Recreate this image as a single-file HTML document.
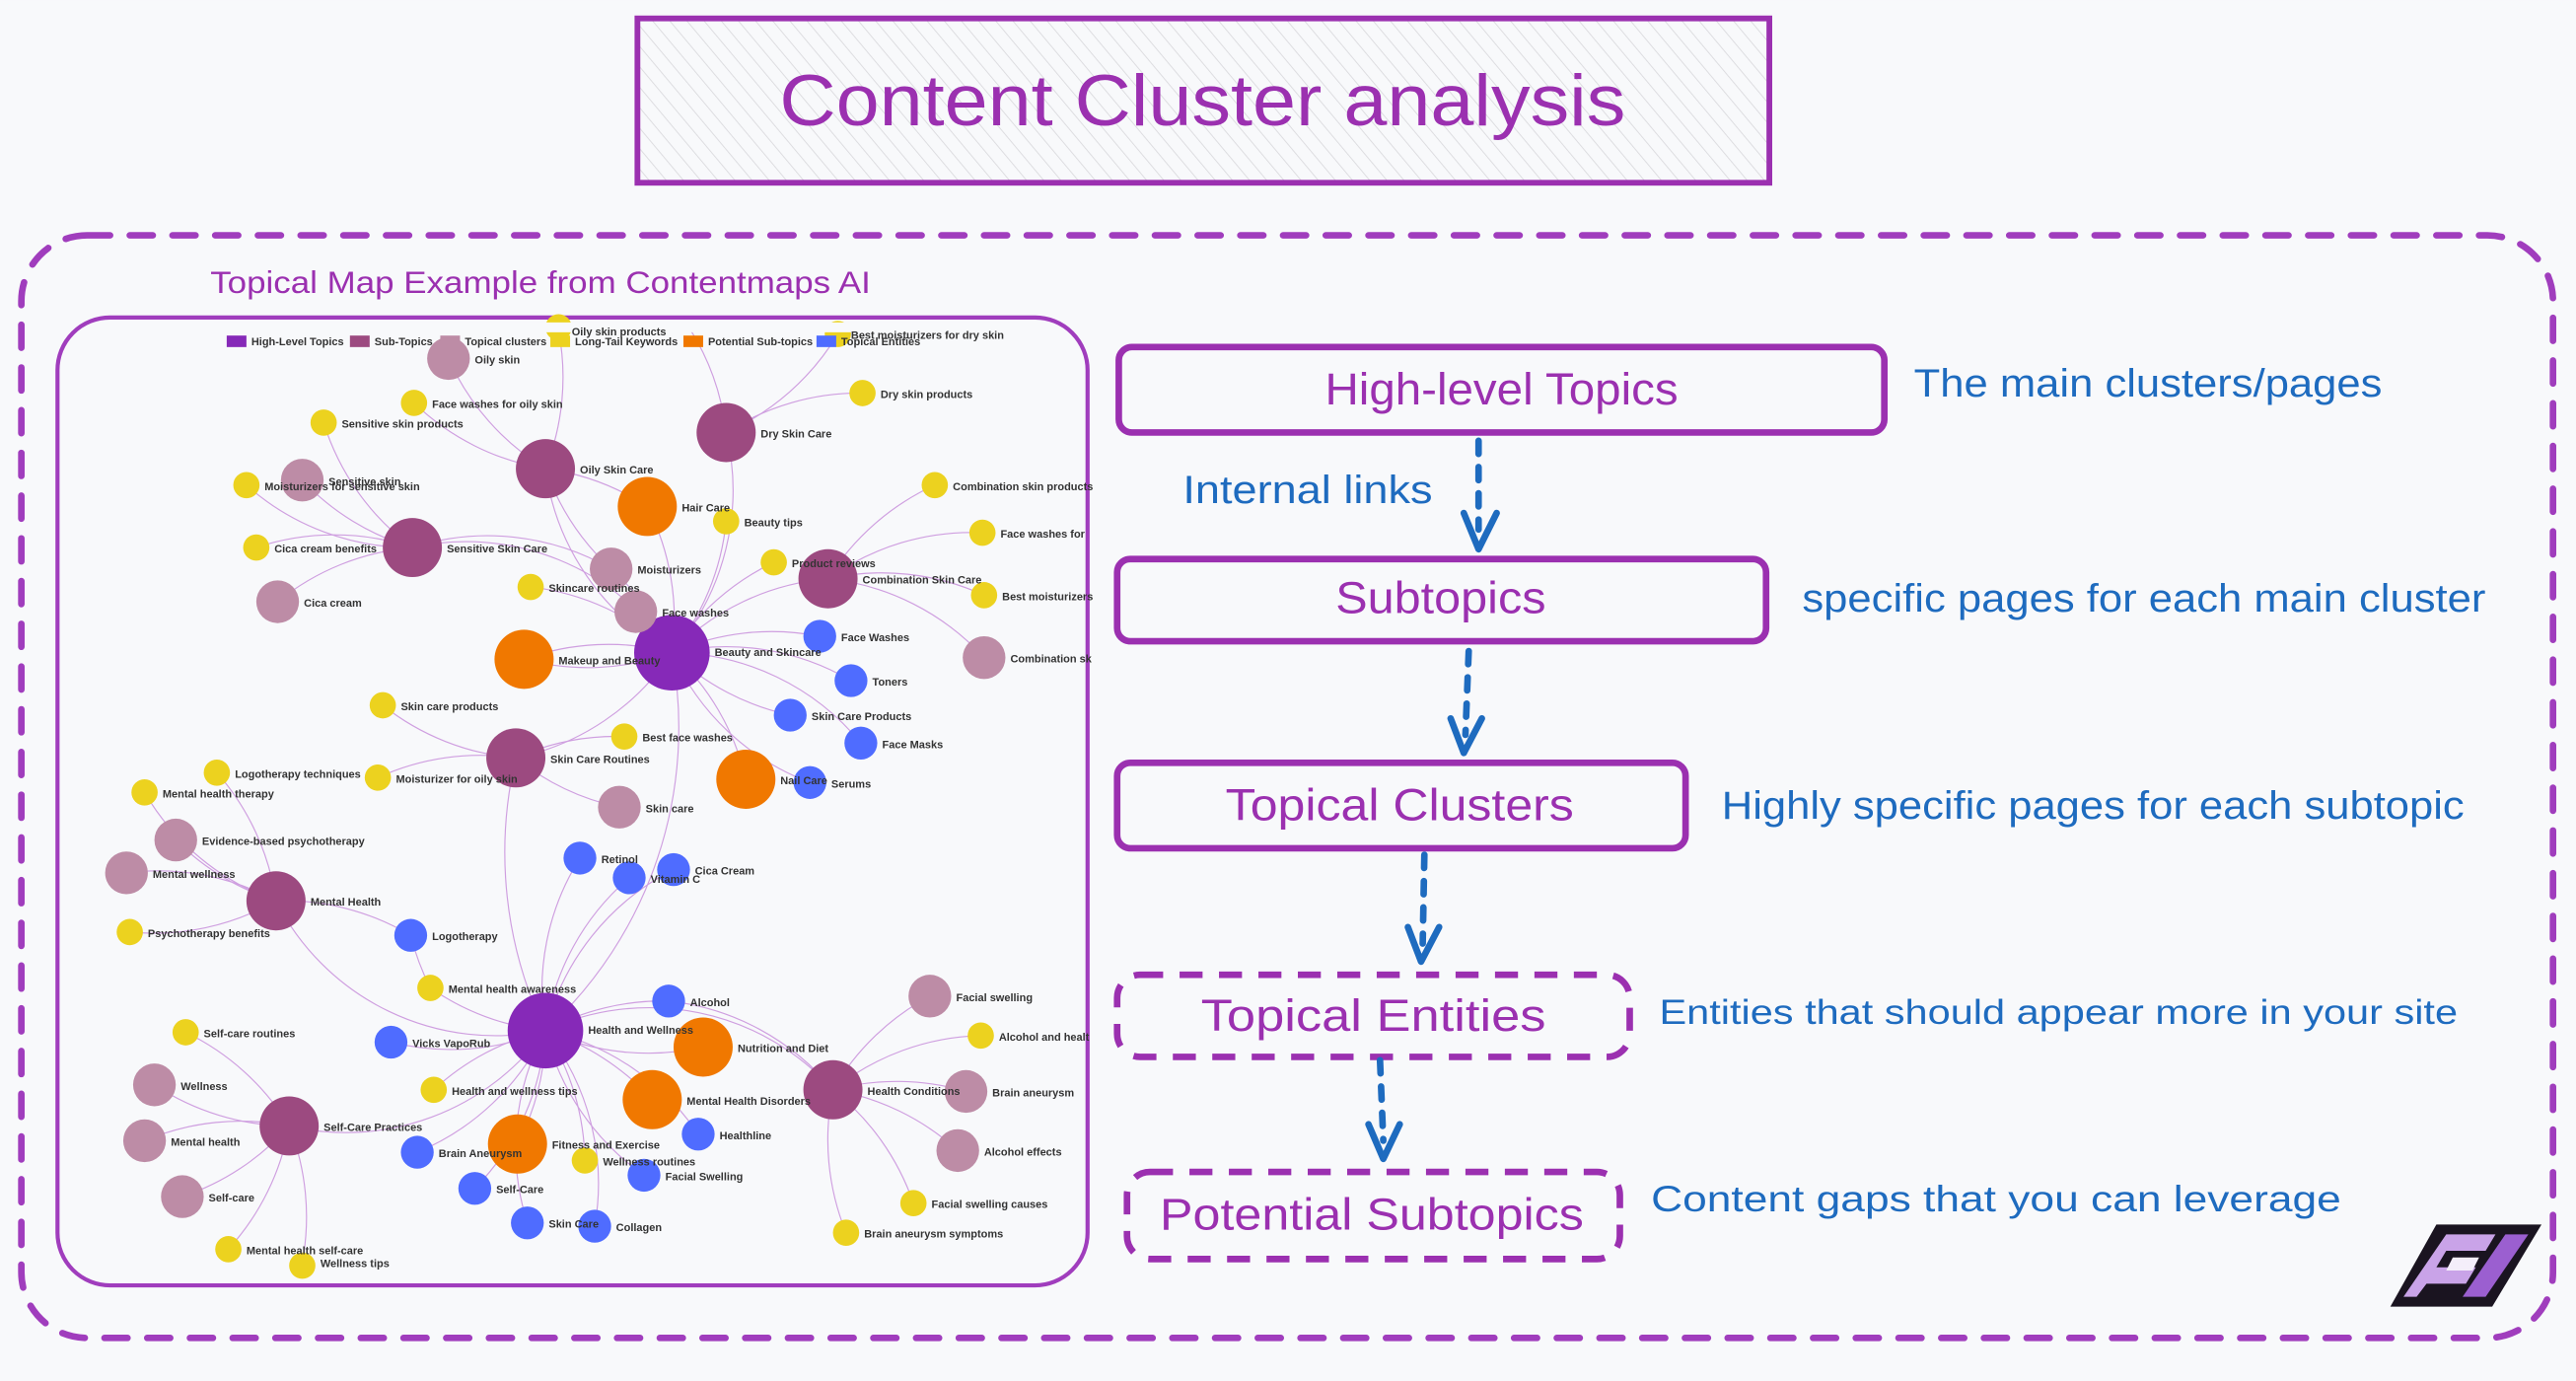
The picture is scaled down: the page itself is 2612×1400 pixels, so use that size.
<!DOCTYPE html>
<html><head><meta charset="utf-8"><style>
html,body{margin:0;padding:0;background:#f8f9fb;}
svg{display:block}
.lb{font-family:"Liberation Sans",sans-serif;font-size:6.6px;fill:#333;font-weight:bold}
.hd{font-family:"Liberation Sans",sans-serif;fill:#9b30b0}
.bl{font-family:"Liberation Sans",sans-serif;fill:#1e6bbf}
</style></head><body>
<svg width="2612" height="1400" viewBox="0 0 1568 840" xmlns="http://www.w3.org/2000/svg">
<defs>
<pattern id="h" width="8" height="8" patternUnits="userSpaceOnUse" patternTransform="rotate(-40)">
<rect width="8" height="8" fill="#f8f9fb"/><line x1="0" y1="0" x2="0" y2="8" stroke="#d8d8dc" stroke-width="1"/></pattern>
</defs>
<rect width="1568" height="840" fill="#f8f9fb"/>
<rect x="388" y="11" width="689" height="100" fill="url(#h)" stroke="#9b30b0" stroke-width="3.5"/>
<text x="732" y="76" text-anchor="middle" class="hd" font-size="44" textLength="515" lengthAdjust="spacingAndGlyphs">Content Cluster analysis</text>
<rect x="13" y="143" width="1541" height="671" rx="40" fill="none" stroke="#a03dbd" stroke-width="4" stroke-dasharray="14 12" stroke-linecap="round"/>
<text x="128" y="178" class="hd" font-size="19" textLength="402" lengthAdjust="spacingAndGlyphs">Topical Map Example from Contentmaps AI</text>
<rect x="35" y="193" width="627" height="589" rx="32" fill="#f8f9fb" stroke="#a03dbd" stroke-width="2.5"/>
<g fill="none" stroke="#cf9fe0" stroke-width="0.7">
<path d="M409 397 A150 150 0 0 1 332 285"/><path d="M409 397 A150 150 0 0 0 442 263"/><path d="M409 397 A150 150 0 0 0 251 333"/><path d="M409 397 A150 150 0 0 1 504 352"/><path d="M409 397 A150 150 0 0 1 314 461"/><path d="M409 397 A150 150 0 0 0 394 308"/><path d="M409 397 A150 150 0 0 1 319 401"/><path d="M409 397 A150 150 0 0 0 319 401"/><path d="M409 397 A150 150 0 0 1 454 474"/><path d="M409 397 A150 150 0 0 0 372 346"/><path d="M409 397 A150 150 0 0 1 387 372"/><path d="M409 397 A150 150 0 0 0 323 357"/><path d="M409 397 A150 150 0 0 0 442 317"/><path d="M409 397 A150 150 0 0 1 471 342"/><path d="M409 397 A150 150 0 0 1 499 387"/><path d="M409 397 A150 150 0 0 1 518 414"/><path d="M409 397 A150 150 0 0 0 481 435"/><path d="M409 397 A150 150 0 0 1 524 452"/><path d="M409 397 A150 150 0 0 0 493 476"/>
<path d="M332 627 A150 150 0 0 1 168 548"/><path d="M332 627 A150 150 0 0 1 176 685"/><path d="M332 627 A150 150 0 0 1 507 663"/><path d="M332 627 A150 150 0 0 0 428 637"/><path d="M332 627 A150 150 0 0 1 397 669"/><path d="M332 627 A150 150 0 0 1 315 696"/><path d="M332 627 A150 150 0 0 1 262 601"/><path d="M332 627 A150 150 0 0 0 264 663"/><path d="M332 627 A150 150 0 0 1 356 706"/><path d="M332 627 A150 150 0 0 1 353 522"/><path d="M332 627 A150 150 0 0 1 383 534"/><path d="M332 627 A150 150 0 0 1 410 529"/><path d="M332 627 A150 150 0 0 1 407 609"/><path d="M332 627 A150 150 0 0 1 238 634"/><path d="M332 627 A150 150 0 0 1 425 690"/><path d="M332 627 A150 150 0 0 1 254 701"/><path d="M332 627 A150 150 0 0 0 392 715"/><path d="M332 627 A150 150 0 0 1 289 723"/><path d="M332 627 A150 150 0 0 0 321 744"/><path d="M332 627 A150 150 0 0 1 362 746"/><path d="M332 627 A250 250 0 0 1 314 461"/><path d="M332 627 A250 250 0 0 0 409 397"/>
<path d="M332 285 A150 150 0 0 1 273 218"/><path d="M332 285 A150 150 0 0 1 252 245"/><path d="M332 285 A150 150 0 0 0 340 201"/><path d="M332 285 A150 150 0 0 1 394 308"/><path d="M332 285 A150 150 0 0 0 372 346"/>
<path d="M442 263 A150 150 0 0 1 525 239"/><path d="M442 263 A150 150 0 0 0 510 203"/><path d="M442 263 A150 150 0 0 0 420 200"/>
<path d="M251 333 A150 150 0 0 1 184 292"/><path d="M251 333 A150 150 0 0 0 169 366"/><path d="M251 333 A150 150 0 0 1 197 257"/><path d="M251 333 A150 150 0 0 1 150 295"/><path d="M251 333 A150 150 0 0 0 156 333"/><path d="M251 333 A150 150 0 0 1 372 346"/>
<path d="M504 352 A150 150 0 0 1 599 400"/><path d="M504 352 A150 150 0 0 1 569 295"/><path d="M504 352 A150 150 0 0 1 598 324"/><path d="M504 352 A150 150 0 0 1 599 362"/>
<path d="M314 461 A150 150 0 0 0 377 491"/><path d="M314 461 A150 150 0 0 1 233 429"/><path d="M314 461 A150 150 0 0 1 380 448"/><path d="M314 461 A150 150 0 0 0 230 473"/>
<path d="M168 548 A150 150 0 0 1 107 511"/><path d="M168 548 A150 150 0 0 0 77 531"/><path d="M168 548 A150 150 0 0 0 132 470"/><path d="M168 548 A150 150 0 0 1 88 482"/><path d="M168 548 A150 150 0 0 1 79 567"/><path d="M168 548 A150 150 0 0 1 250 569"/>
<path d="M176 685 A150 150 0 0 1 94 660"/><path d="M176 685 A150 150 0 0 0 88 694"/><path d="M176 685 A150 150 0 0 1 111 728"/><path d="M176 685 A150 150 0 0 0 113 628"/><path d="M176 685 A150 150 0 0 1 139 760"/><path d="M176 685 A150 150 0 0 1 184 768"/>
<path d="M507 663 A150 150 0 0 1 566 606"/><path d="M507 663 A150 150 0 0 1 588 664"/><path d="M507 663 A150 150 0 0 1 583 700"/><path d="M507 663 A150 150 0 0 1 597 630"/><path d="M507 663 A150 150 0 0 1 556 732"/><path d="M507 663 A150 150 0 0 0 515 750"/><path d="M507 663 A150 150 0 0 0 407 609"/>
<path d="M250 569 A150 150 0 0 0 262 601"/>
</g>
<g>
<circle cx="409" cy="397" r="23" fill="#8629b8"/><circle cx="332" cy="627" r="23" fill="#8629b8"/>
<g fill="#9c4a80"><circle cx="332" cy="285" r="18"/><circle cx="442" cy="263" r="18"/><circle cx="251" cy="333" r="18"/><circle cx="504" cy="352" r="18"/><circle cx="314" cy="461" r="18"/><circle cx="168" cy="548" r="18"/><circle cx="176" cy="685" r="18"/><circle cx="507" cy="663" r="18"/></g>
<g fill="#f07800"><circle cx="394" cy="308" r="18"/><circle cx="319" cy="401" r="18"/><circle cx="454" cy="474" r="18"/><circle cx="428" cy="637" r="18"/><circle cx="397" cy="669" r="18"/><circle cx="315" cy="696" r="18"/></g>
<g fill="#bd8ca6"><circle cx="273" cy="218" r="13"/><circle cx="184" cy="292" r="13"/><circle cx="169" cy="366" r="13"/><circle cx="372" cy="346" r="13"/><circle cx="387" cy="372" r="13"/><circle cx="599" cy="400" r="13"/><circle cx="377" cy="491" r="13"/><circle cx="107" cy="511" r="13"/><circle cx="77" cy="531" r="13"/><circle cx="94" cy="660" r="13"/><circle cx="88" cy="694" r="13"/><circle cx="111" cy="728" r="13"/><circle cx="566" cy="606" r="13"/><circle cx="588" cy="664" r="13"/><circle cx="583" cy="700" r="13"/></g>
<g fill="#ecd21f"><circle cx="525" cy="239" r="8"/><circle cx="252" cy="245" r="8"/><circle cx="197" cy="257" r="8"/><circle cx="150" cy="295" r="8"/><circle cx="442" cy="317" r="8"/><circle cx="156" cy="333" r="8"/><circle cx="323" cy="357" r="8"/><circle cx="471" cy="342" r="8"/><circle cx="569" cy="295" r="8"/><circle cx="598" cy="324" r="8"/><circle cx="599" cy="362" r="8"/><circle cx="233" cy="429" r="8"/><circle cx="380" cy="448" r="8"/><circle cx="230" cy="473" r="8"/><circle cx="132" cy="470" r="8"/><circle cx="88" cy="482" r="8"/><circle cx="79" cy="567" r="8"/><circle cx="262" cy="601" r="8"/><circle cx="113" cy="628" r="8"/><circle cx="264" cy="663" r="8"/><circle cx="356" cy="706" r="8"/><circle cx="139" cy="760" r="8"/><circle cx="184" cy="770" r="8"/><circle cx="597" cy="630" r="8"/><circle cx="556" cy="732" r="8"/><circle cx="515" cy="750" r="8"/><circle cx="340" cy="199" r="8"/><circle cx="510" cy="203" r="8"/></g>
<g fill="#4f6cff"><circle cx="499" cy="387" r="10"/><circle cx="518" cy="414" r="10"/><circle cx="481" cy="435" r="10"/><circle cx="524" cy="452" r="10"/><circle cx="493" cy="476" r="10"/><circle cx="353" cy="522" r="10"/><circle cx="383" cy="534" r="10"/><circle cx="410" cy="529" r="10"/><circle cx="250" cy="569" r="10"/><circle cx="407" cy="609" r="10"/><circle cx="238" cy="634" r="10"/><circle cx="425" cy="690" r="10"/><circle cx="254" cy="701" r="10"/><circle cx="392" cy="715" r="10"/><circle cx="289" cy="723" r="10"/><circle cx="321" cy="744" r="10"/><circle cx="362" cy="746" r="10"/></g>
</g>
<rect x="130" y="196" width="490" height="6" fill="#f8f9fb"/>
<g class="lb">
<rect x="138" y="204" width="12" height="7" fill="#8629b8"/><text x="153" y="210">High-Level Topics</text>
<rect x="213" y="204" width="12" height="7" fill="#9c4a80"/><text x="228" y="210">Sub-Topics</text>
<rect x="268" y="204" width="12" height="7" fill="#bd8ca6"/><text x="283" y="210">Topical clusters</text>
<rect x="335" y="204" width="12" height="7" fill="#ecd21f"/><text x="350" y="210">Long-Tail Keywords</text>
<rect x="416" y="204" width="12" height="7" fill="#f07800"/><text x="431" y="210">Potential Sub-topics</text>
<rect x="497" y="204" width="12" height="7" fill="#4f6cff"/><text x="512" y="210">Topical Entities</text>
<text x="348" y="204">Oily skin products</text>
<text x="518" y="206">Best moisturizers for dry skin</text>
</g>
<g class="lb">
<text x="435" y="399">Beauty and Skincare</text>
<text x="358" y="629">Health and Wellness</text>
<text x="353" y="288">Oily Skin Care</text>
<text x="463" y="266">Dry Skin Care</text>
<text x="272" y="336">Sensitive Skin Care</text>
<text x="525" y="355">Combination Skin Care</text>
<text x="335" y="464">Skin Care Routines</text>
<text x="189" y="551">Mental Health</text>
<text x="197" y="688">Self-Care Practices</text>
<text x="528" y="666">Health Conditions</text>
<text x="415" y="311">Hair Care</text>
<text x="340" y="404">Makeup and Beauty</text>
<text x="475" y="477">Nail Care</text>
<text x="449" y="640">Nutrition and Diet</text>
<text x="418" y="672">Mental Health Disorders</text>
<text x="336" y="699">Fitness and Exercise</text>
<text x="289" y="221">Oily skin</text>
<text x="200" y="295">Sensitive skin</text>
<text x="185" y="369">Cica cream</text>
<text x="388" y="349">Moisturizers</text>
<text x="403" y="375">Face washes</text>
<text x="615" y="403">Combination sk</text>
<text x="393" y="494">Skin care</text>
<text x="123" y="514">Evidence-based psychotherapy</text>
<text x="93" y="534">Mental wellness</text>
<text x="110" y="663">Wellness</text>
<text x="104" y="697">Mental health</text>
<text x="127" y="731">Self-care</text>
<text x="582" y="609">Facial swelling</text>
<text x="604" y="667">Brain aneurysm</text>
<text x="599" y="703">Alcohol effects</text>
<text x="536" y="242">Dry skin products</text>
<text x="263" y="248">Face washes for oily skin</text>
<text x="208" y="260">Sensitive skin products</text>
<text x="161" y="298">Moisturizers for sensitive skin</text>
<text x="453" y="320">Beauty tips</text>
<text x="167" y="336">Cica cream benefits</text>
<text x="334" y="360">Skincare routines</text>
<text x="482" y="345">Product reviews</text>
<text x="580" y="298">Combination skin products</text>
<text x="609" y="327">Face washes for</text>
<text x="610" y="365">Best moisturizers</text>
<text x="244" y="432">Skin care products</text>
<text x="391" y="451">Best face washes</text>
<text x="241" y="476">Moisturizer for oily skin</text>
<text x="143" y="473">Logotherapy techniques</text>
<text x="99" y="485">Mental health therapy</text>
<text x="90" y="570">Psychotherapy benefits</text>
<text x="273" y="604">Mental health awareness</text>
<text x="124" y="631">Self-care routines</text>
<text x="275" y="666">Health and wellness tips</text>
<text x="367" y="709">Wellness routines</text>
<text x="150" y="763">Mental health self-care</text>
<text x="195" y="771">Wellness tips</text>
<text x="608" y="633">Alcohol and healt</text>
<text x="567" y="735">Facial swelling causes</text>
<text x="526" y="753">Brain aneurysm symptoms</text>
<text x="512" y="390">Face Washes</text>
<text x="531" y="417">Toners</text>
<text x="494" y="438">Skin Care Products</text>
<text x="537" y="455">Face Masks</text>
<text x="506" y="479">Serums</text>
<text x="366" y="525">Retinol</text>
<text x="396" y="537">Vitamin C</text>
<text x="423" y="532">Cica Cream</text>
<text x="263" y="572">Logotherapy</text>
<text x="420" y="612">Alcohol</text>
<text x="251" y="637">Vicks VapoRub</text>
<text x="438" y="693">Healthline</text>
<text x="267" y="704">Brain Aneurysm</text>
<text x="405" y="718">Facial Swelling</text>
<text x="302" y="726">Self-Care</text>
<text x="334" y="747">Skin Care</text>
<text x="375" y="749">Collagen</text>
</g>
<g fill="none" stroke="#9b30b0" stroke-width="4">
<rect x="681" y="211" width="466" height="52" rx="8"/>
<rect x="680" y="340" width="395" height="50" rx="8"/>
<rect x="680" y="464" width="346" height="52" rx="8"/>
<rect x="680" y="593" width="312" height="50" rx="14" stroke-dasharray="14 10"/>
<rect x="686" y="713" width="300" height="53" rx="14" stroke-dasharray="14 10"/>
</g>
<g class="hd" text-anchor="middle" font-size="27">
<text x="914" y="246" textLength="215" lengthAdjust="spacingAndGlyphs">High-level Topics</text>
<text x="877" y="373" textLength="128" lengthAdjust="spacingAndGlyphs">Subtopics</text>
<text x="852" y="499" textLength="212" lengthAdjust="spacingAndGlyphs">Topical Clusters</text>
<text x="836" y="627" textLength="210" lengthAdjust="spacingAndGlyphs">Topical Entities</text>
<text x="835" y="748" textLength="258" lengthAdjust="spacingAndGlyphs">Potential Subtopics</text>
</g>
<g class="bl" font-size="24">
<text x="1165" y="241" textLength="285" lengthAdjust="spacingAndGlyphs">The main clusters/pages</text>
<text x="720" y="306" textLength="152" lengthAdjust="spacingAndGlyphs">Internal links</text>
<text x="1097" y="372" textLength="416" lengthAdjust="spacingAndGlyphs">specific pages for each main cluster</text>
<text x="1048" y="498" textLength="452" lengthAdjust="spacingAndGlyphs">Highly specific pages for each subtopic</text>
<text x="1010" y="623" font-size="21" textLength="486" lengthAdjust="spacingAndGlyphs">Entities that should appear more in your site</text>
<text x="1005" y="737" font-size="22" textLength="420" lengthAdjust="spacingAndGlyphs">Content gaps that you can leverage</text>
</g>
<g fill="none" stroke="#1e6bbf" stroke-width="4" stroke-linecap="round" stroke-linejoin="round">
<path d="M900 268 L900 322" stroke-dasharray="8 8"/><path d="M891 312 L900 334 L911 312"/>
<path d="M894 396 L892 447" stroke-dasharray="8 8"/><path d="M883 437 L891 458 L902 437"/>
<path d="M867 520 L866 574" stroke-dasharray="8 8"/><path d="M857 564 L865 585 L876 564"/>
<path d="M840 645 L842 694" stroke-dasharray="8 8"/><path d="M833 684 L842 705 L852 684"/>
</g>
<g transform="translate(1455,745)">
<polygon points="28,0 92,0 62,50 0,50" fill="#1a1420"/>
<polygon points="34,6 64,6 58,16 34,16 28,26 52,26 46,36 22,36 16,44 8,44" fill="#c9a3e8"/>
<polygon points="70,6 84,6 58,44 44,44" fill="#9b5fd0"/>
<polygon points="38,20 54,20 50,28 34,28" fill="#f4eefa"/>
</g>
</svg>
</body></html>
